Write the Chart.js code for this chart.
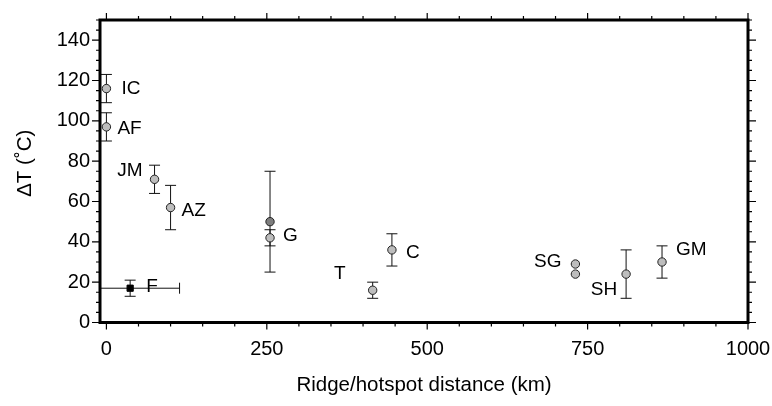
<!DOCTYPE html>
<html>
<head>
<meta charset="utf-8">
<script src="https://cdn.jsdelivr.net/npm/chart.js@4/dist/chart.umd.min.js"></script>
<style>
  html, body { margin: 0; padding: 0; background: #fff; }
  #wrap { width: 772px; height: 406px; }
</style>
</head>
<body>
<div id="wrap"><canvas id="chart" width="772" height="406"></canvas></div>
<script>
// site data: distance to ridge (km), temperature anomaly and its error
const sites     = ['IC', 'AF', 'JM', 'AZ', 'G',  'G',  'F', 'T',  'C',  'SG', 'SG', 'SH', 'GM'];
const distance  = [0,    0,    75,   100,  255,  255,  37,  415,  445,  731,  731,  810,  866];
const deltaT    = [116,  97,   71,   57,   50,   42,   17,  16,   36,   29,   24,   24,   30];
const errT      = [7,    7,    7,    11,   25,   4,    4,   4,    8,    0,    0,    12,   8];
const errDist   = [0,    0,    0,    0,    0,    0,    77,  0,    0,    0,    0,    0,    0];
const markerKind = ['grey', 'grey', 'grey', 'grey', 'dark', 'grey', 'square', 'grey', 'grey', 'grey', 'grey', 'grey', 'grey'];

const xTicks = [0, 250, 500, 750, 1000];
const yTicks = [0, 20, 40, 60, 80, 100, 120, 140];

// label placement relative to the point (px), one entry per site
const labelPos = {
  0:  { dx: 15,  dy: 0,   align: 'left' },
  1:  { dx: 11,  dy: 2,   align: 'left' },
  2:  { dx: -12, dy: -9,  align: 'right' },
  3:  { dx: 11,  dy: 3,   align: 'left' },
  5:  { dx: 13,  dy: -2,  align: 'left' },
  6:  { dx: 16,  dy: -1,  align: 'left' },
  7:  { dx: -27, dy: -16, align: 'right' },
  8:  { dx: 14,  dy: 3,   align: 'left' },
  9:  { dx: -14, dy: -2,  align: 'right' },
  11: { dx: -9,  dy: 16,  align: 'right' },
  12: { dx: 14,  dy: -12, align: 'left' }
};

const FONT = '"Liberation Sans", Arial, Helvetica, sans-serif';

function pointsOf(kind) {
  const out = [];
  sites.forEach((s, i) => {
    if (markerKind[i] === kind) out.push({ x: distance[i], y: deltaT[i], i: i });
  });
  return out;
}

// error bars go under the markers
const errorBars = {
  id: 'errorBars',
  beforeDatasetsDraw(chart) {
    const { ctx, chartArea: a, scales: { x, y } } = chart;
    ctx.save();
    ctx.beginPath();
    ctx.rect(a.left, a.top, a.right - a.left, a.bottom - a.top);
    ctx.clip();
    ctx.strokeStyle = '#111';
    ctx.lineWidth = 1;
    const cap = 5.5;
    sites.forEach((s, i) => {
      const px = x.getPixelForValue(distance[i]);
      const py = y.getPixelForValue(deltaT[i]);
      if (errT[i] > 0) {
        const top = y.getPixelForValue(deltaT[i] + errT[i]);
        const bot = y.getPixelForValue(deltaT[i] - errT[i]);
        ctx.beginPath();
        ctx.moveTo(px, top); ctx.lineTo(px, bot);
        ctx.moveTo(px - cap, top); ctx.lineTo(px + cap, top);
        ctx.moveTo(px - cap, bot); ctx.lineTo(px + cap, bot);
        ctx.stroke();
      }
      if (errDist[i] > 0) {
        const l = x.getPixelForValue(distance[i] - errDist[i]);
        const r = x.getPixelForValue(distance[i] + errDist[i]);
        ctx.beginPath();
        ctx.moveTo(l, py); ctx.lineTo(r, py);
        ctx.moveTo(l, py - cap); ctx.lineTo(l, py + cap);
        ctx.moveTo(r, py - cap); ctx.lineTo(r, py + cap);
        ctx.stroke();
      }
    });
    ctx.restore();
  }
};

// thick frame, ticks on all four sides, site labels and axis titles
const frame = {
  id: 'frame',
  afterDraw(chart) {
    const { ctx, chartArea: a, scales: { x, y } } = chart;
    ctx.save();
    ctx.strokeStyle = '#000';

    ctx.lineWidth = 1.2;
    const major = 7, minor = 4;
    for (let v = 0; v <= 1000; v += 50) {
      const px = x.getPixelForValue(v);
      const len = v % 250 === 0 ? major : minor;
      ctx.beginPath();
      ctx.moveTo(px, a.bottom); ctx.lineTo(px, a.bottom + len);
      ctx.moveTo(px, a.top); ctx.lineTo(px, a.top - len);
      ctx.stroke();
    }
    for (let v = 0; v <= 150; v += 5) {
      const py = y.getPixelForValue(v);
      const len = v % 20 === 0 ? major + 1 : minor;
      ctx.beginPath();
      ctx.moveTo(a.left, py); ctx.lineTo(a.left - len, py);
      ctx.moveTo(a.right, py); ctx.lineTo(a.right + len, py);
      ctx.stroke();
    }

    ctx.lineWidth = 3;
    ctx.strokeRect(a.left, a.top, a.right - a.left, a.bottom - a.top);

    ctx.fillStyle = '#000';
    ctx.font = '19px ' + FONT;
    ctx.textBaseline = 'middle';
    Object.keys(labelPos).forEach(k => {
      const i = +k, p = labelPos[k];
      ctx.textAlign = p.align;
      ctx.fillText(sites[i],
        x.getPixelForValue(distance[i]) + p.dx,
        y.getPixelForValue(deltaT[i]) + p.dy);
    });

    ctx.font = '20.5px ' + FONT;
    ctx.textAlign = 'center';
    ctx.fillText('Ridge/hotspot distance (km)', (a.left + a.right) / 2, 385);
    ctx.translate(25, (a.top + a.bottom) / 2 - 8);
    ctx.rotate(-Math.PI / 2);
    ctx.fillText('ΔT (˚C)', 0, 0);
    ctx.restore();
  }
};

const tickFont = { family: FONT, size: 20 };

// keep the chart area fixed: no extra room for overhanging tick labels
function fixPadding(s) {
  s.paddingLeft = 0; s.paddingRight = 0;
  s.paddingTop = 0; s.paddingBottom = 0;
}

new Chart(document.getElementById('chart'), {
  type: 'scatter',
  data: {
    datasets: [
      {
        data: pointsOf('grey'),
        pointStyle: 'circle', pointRadius: 4.2,
        backgroundColor: '#bdbdbd', borderColor: '#222', borderWidth: 1
      },
      {
        data: pointsOf('dark'),
        pointStyle: 'circle', pointRadius: 4.2,
        backgroundColor: '#7d7d7d', borderColor: '#222', borderWidth: 1
      },
      {
        data: pointsOf('square'),
        pointStyle: 'rect', pointRadius: 4.4,
        backgroundColor: '#000', borderColor: '#000', borderWidth: 1
      }
    ]
  },
  options: {
    responsive: false,
    animation: false,
    events: [],
    layout: { padding: { top: 20, right: 24, left: 0, bottom: 0 } },
    plugins: { legend: { display: false }, tooltip: { enabled: false } },
    scales: {
      x: {
        type: 'linear', min: -10, max: 1000,
        afterBuildTicks: s => { s.ticks = xTicks.map(v => ({ value: v })); },
        afterFit: s => { s.height = 83.5; fixPadding(s); },
        grid: { display: false, drawTicks: false },
        border: { display: false },
        ticks: {
          font: tickFont, color: '#000', padding: 15, maxRotation: 0, autoSkip: false,
          callback: v => String(v)
        }
      },
      y: {
        type: 'linear', min: 0, max: 150,
        afterBuildTicks: s => { s.ticks = yTicks.map(v => ({ value: v })); },
        afterFit: s => { s.width = 100; fixPadding(s); },
        grid: { display: false, drawTicks: false },
        border: { display: false },
        ticks: { font: tickFont, color: '#000', padding: 10, autoSkip: false, callback: v => String(v) }
      }
    }
  },
  plugins: [errorBars, frame]
});
</script>
</body>
</html>
